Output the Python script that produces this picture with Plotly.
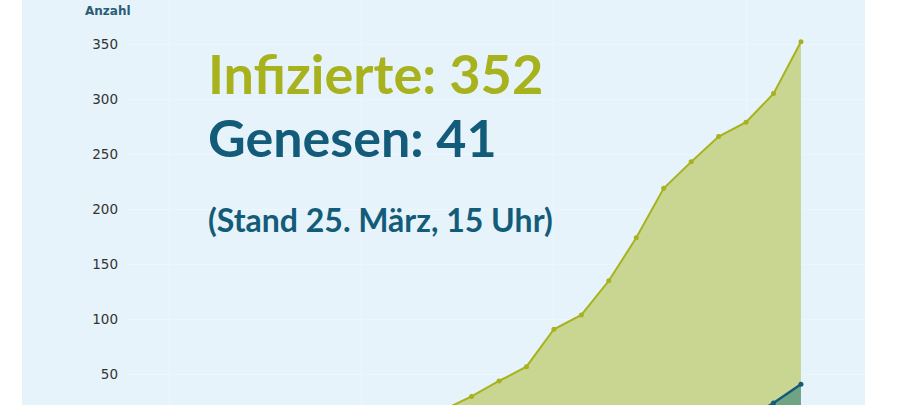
import plotly.graph_objects as go

dates = ["2020-03-%02d" % d for d in range(1, 26)]
infizierte = [1, 2, 2, 3, 3, 4, 4, 5, 6, 9, 13, 18, 30, 44, 57, 91, 104, 135, 174, 219, 243, 266, 279, 305, 352]
genesen = [0, 0, 0, 0, 0, 0, 0, 0, 0, 0, 0, 0, 0, 0, 0, 0, 0, 0, 0, 0, 2, 5, 9, 24, 41]
y_ticks = [50, 100, 150, 200, 250, 300, 350]

W, H = 900, 405
L, R = 125, 35
PW = W - L - R

def px(x):
    return (x - L) / PW

OLIVE = "#a7b21c"
TEAL = "#135c79"
BG = "#e6f3fb"

fig = go.Figure()
fig.add_trace(go.Scatter(
    x=dates, y=infizierte, mode="lines+markers", fill="tozeroy",
    line=dict(color=OLIVE, width=2), marker=dict(color=OLIVE, size=5),
    fillcolor="rgba(180,196,80,0.62)", showlegend=False))
fig.add_trace(go.Scatter(
    x=dates, y=genesen, mode="lines+markers", fill="tozeroy",
    line=dict(color=TEAL, width=2.5), marker=dict(color=TEAL, size=5),
    fillcolor="rgba(40,120,120,0.55)", showlegend=False))

TXT_X = px(206)
fig.update_layout(
    width=W, height=H,
    margin=dict(l=L, r=R, t=0, b=0),
    paper_bgcolor="white", plot_bgcolor=BG,
    xaxis=dict(range=["2020-02-29 09:00", "2020-03-27 08:00"], showticklabels=False,
               tick0="2020-03-02", dtick=7 * 86400000, showgrid=True,
               gridcolor="#edf6fc", gridwidth=1, zeroline=False, showline=False),
    yaxis=dict(range=[22.2, 390], tickvals=y_ticks, showgrid=True, gridcolor="#edf6fc",
               gridwidth=1, zeroline=False, showline=False, ticks="",
               ticklabelstandoff=6,
               tickfont=dict(family="DejaVu Sans", size=13.5, color="#333333")),
    shapes=[dict(type="rect", xref="paper", yref="paper", x0=px(22), x1=px(865),
                 y0=0, y1=1, fillcolor=BG, line=dict(width=0), layer="below")],
    annotations=[
        dict(text="<b>Anzahl</b>", xref="paper", yref="paper", x=px(108), y=1 - 11 / H,
             xanchor="center", yanchor="middle", showarrow=False,
             font=dict(family="DejaVu Sans", size=12, color="#2a5d75")),
        dict(text="Infizierte: 352", xref="paper", yref="paper", x=TXT_X, y=1 - 74 / H,
             xanchor="left", yanchor="middle", showarrow=False,
             font=dict(family="Lato", size=54, color=OLIVE, weight=700)),
        dict(text="Genesen: 41", xref="paper", yref="paper", x=TXT_X, y=1 - 137 / H,
             xanchor="left", yanchor="middle", showarrow=False,
             font=dict(family="Lato", size=52, color=TEAL, weight=700)),
        dict(text="(Stand 25. März, 15 Uhr)", xref="paper", yref="paper", x=TXT_X, y=1 - 219 / H,
             xanchor="left", yanchor="middle", showarrow=False,
             font=dict(family="Lato", size=32, color=TEAL, weight=700)),
    ],
)
fig.write_html("out.html", config={"displayModeBar": False},
               post_script="document.body.style.margin='0';")
